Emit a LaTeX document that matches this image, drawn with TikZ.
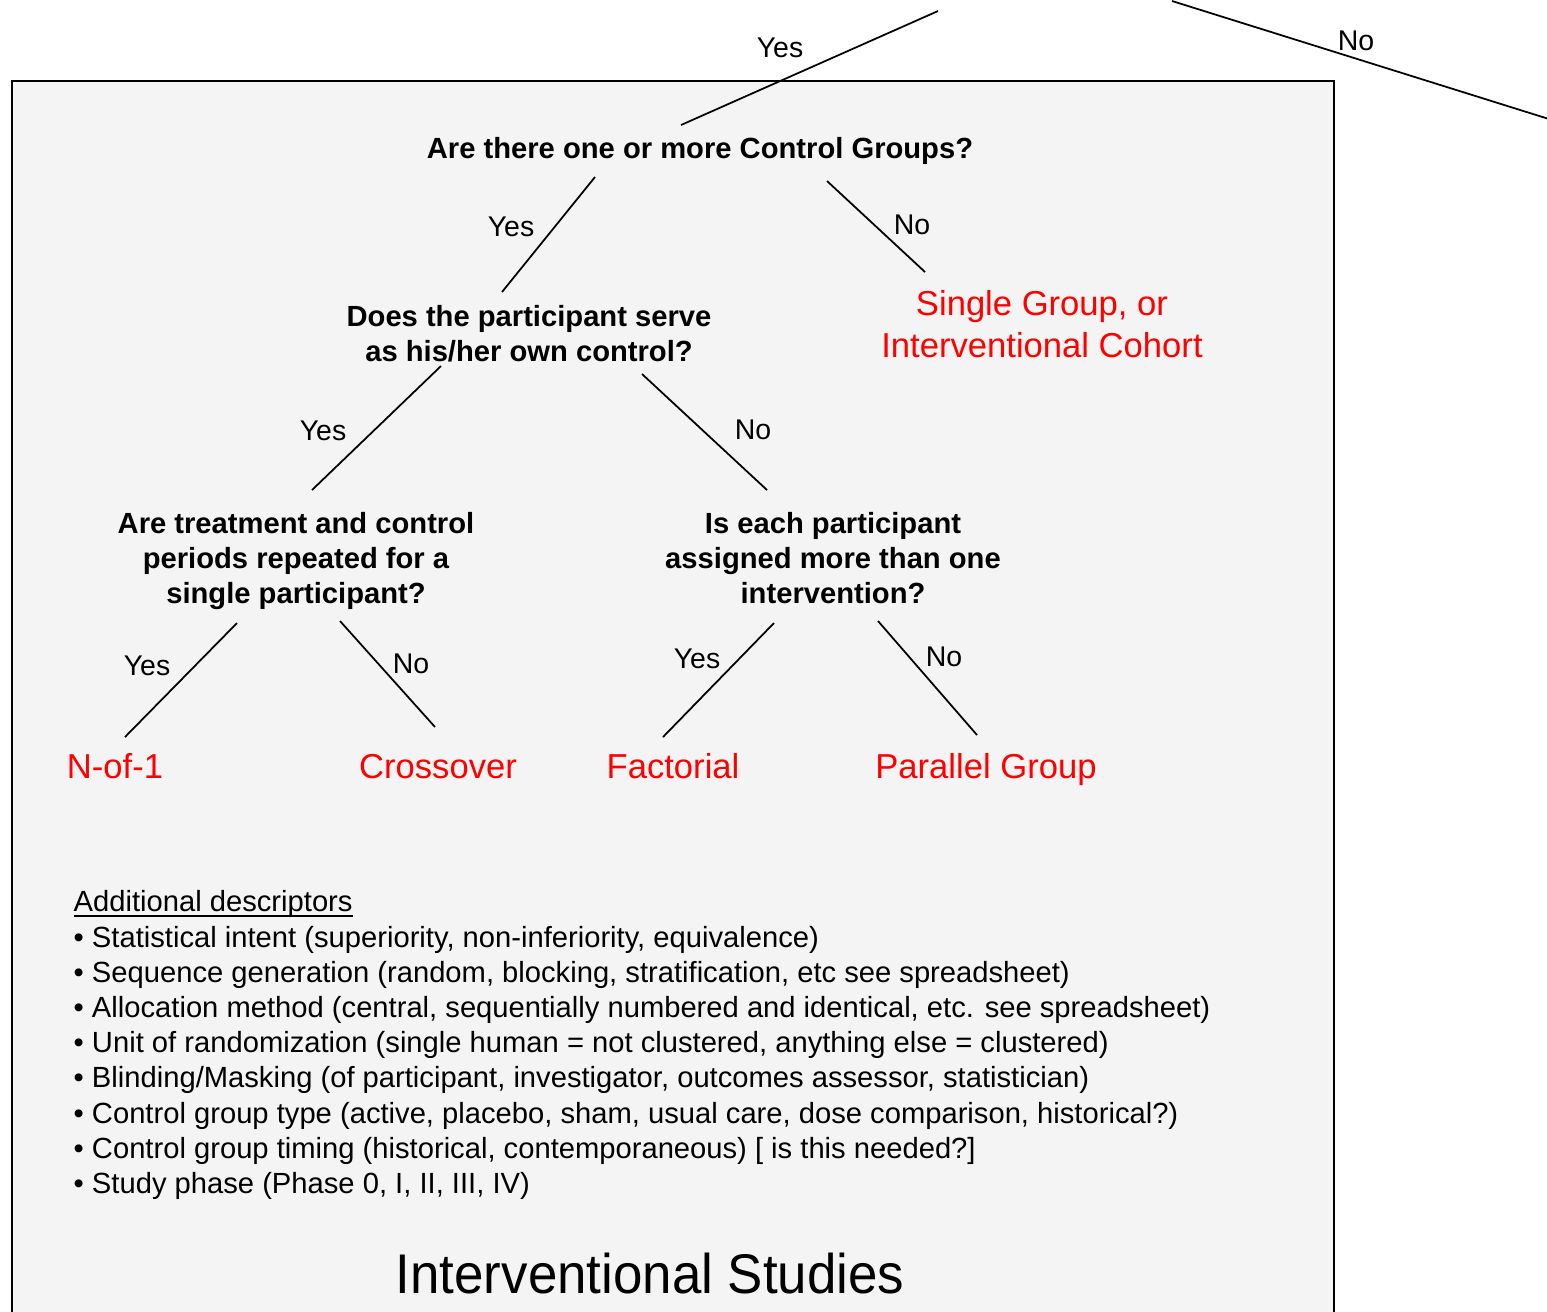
\documentclass[tikz,border=0pt]{standalone}
\usepackage{fontspec}
\setmainfont{Liberation Sans}
\definecolor{boxfill}{HTML}{F4F4F4}
\definecolor{leafred}{HTML}{FF0000}
\begin{document}
\begin{tikzpicture}[x=0.1mm,y=-0.1mm,
  q/.style={font=\fontsize{8.3pt}{9.96pt}\selectfont\bfseries, align=center, inner sep=0pt},
  leaf/.style={font=\fontsize{9.85pt}{11.95pt}\selectfont, text=leafred, align=center, inner sep=0pt},
  lab/.style={font=\fontsize{8.1pt}{9.7pt}\selectfont, inner sep=0pt},
  conn/.style={line width=0.5pt},
  desc/.style={font=\fontsize{8.3pt}{9.96pt}\selectfont, anchor=base west, inner sep=0pt}]
\useasboundingbox (0,0) rectangle (1547,1311);
\fill[white] (0,0) rectangle (1547,1311);
\draw[fill=boxfill, line width=0.7pt] (12,1340) -- (12,81) -- (1334,81) -- (1334,1340);

% question nodes
\node[q] (q1) at (700,151) {Are there one or more Control Groups?};
\node[q] (q2) at (529,334) {Does the participant serve\\as his/her own control?};
\node[q] (q3) at (296,561) {Are treatment and control\\periods repeated for a\\single participant?};
\node[q] (q4) at (833,558) {Is each participant\\assigned more than one\\intervention?};
% leaves
\node[leaf] (l0) at (1042,324) {Single Group, or\\Interventional Cohort};
\node[leaf] (l1) at (115,766) {N-of-1};
\node[leaf] (l2) at (438,767) {Crossover};
\node[leaf] (l3) at (673,766) {Factorial};
\node[leaf] (l4) at (986,770) {Parallel Group};

% connector end points
\coordinate (top-y) at (938,11);
\coordinate (top-n) at (1172,1);
\coordinate (off-n) at (1600,135);
\coordinate (q1-in) at (681,125);
\coordinate (q1-y) at (595,177);
\coordinate (q1-n) at (827,181);
\coordinate (q2-in) at (502,292);
\coordinate (l0-in) at (925,272);
\coordinate (q2-y) at (441,366);
\coordinate (q2-n) at (642,374);
\coordinate (q3-in) at (312,490);
\coordinate (q4-in) at (767,490);
\coordinate (q3-y) at (237,623);
\coordinate (q3-n) at (340,621);
\coordinate (q4-y) at (774,623);
\coordinate (q4-n) at (878,621);
\coordinate (l1-in) at (125,737);
\coordinate (l2-in) at (435,727);
\coordinate (l3-in) at (663,737);
\coordinate (l4-in) at (977,735);

\draw[conn] (top-y) -- (q1-in);
\draw[conn] (top-n) -- (off-n);
\draw[conn] (q1-y) -- (q2-in);
\draw[conn] (q1-n) -- (l0-in);
\draw[conn] (q2-y) -- (q3-in);
\draw[conn] (q2-n) -- (q4-in);
\draw[conn] (q3-y) -- (l1-in);
\draw[conn] (q3-n) -- (l2-in);
\draw[conn] (q4-y) -- (l3-in);
\draw[conn] (q4-n) -- (l4-in);

% labels
\node[lab] (y0) at (780,48) {Yes};
\node[lab] (n0) at (1356,41) {No};
\node[lab] (y1) at (511,227) {Yes};
\node[lab] (n1) at (912,225) {No};
\node[lab] (y2) at (323,431) {Yes};
\node[lab] (n2) at (753,430) {No};
\node[lab] (y3) at (147,666) {Yes};
\node[lab] (n3) at (411,664) {No};
\node[lab] (y4) at (697,659) {Yes};
\node[lab] (n4) at (944,657) {No};

% descriptors
\node[desc] (d0) at (73,911) {\underline{\smash{Additional descriptors}}};
\node[desc] (d1) at (73,947) {• Statistical intent (superiority, non-inferiority, equivalence)};
\node[desc] (d2) at (73,982) {• Sequence generation (random, blocking, stratification, etc see spreadsheet)};
\node[desc] (d3) at (73,1017) {• Allocation method (central, sequentially numbered and identical, etc. see spreadsheet)};
\node[desc] (d4) at (73,1052) {• Unit of randomization (single human = not clustered, anything else = clustered)};
\node[desc] (d5) at (73,1087) {• Blinding/Masking (of participant, investigator, outcomes assessor, statistician)};
\node[desc] (d6) at (73,1123) {• Control group type (active, placebo, sham, usual care, dose comparison, historical?)};
\node[desc] (d7) at (73,1158) {• Control group timing (historical, contemporaneous) [ is this needed?]};
\node[desc] (d8) at (73,1193) {• Study phase (Phase 0, I, II, III, IV)};

\node[font=\fontsize{15.9pt}{19pt}\selectfont, anchor=base, inner sep=0pt] (title) at (650,1293) {\scalebox{0.946}[1]{Interventional Studies}};
\end{tikzpicture}
\end{document}
